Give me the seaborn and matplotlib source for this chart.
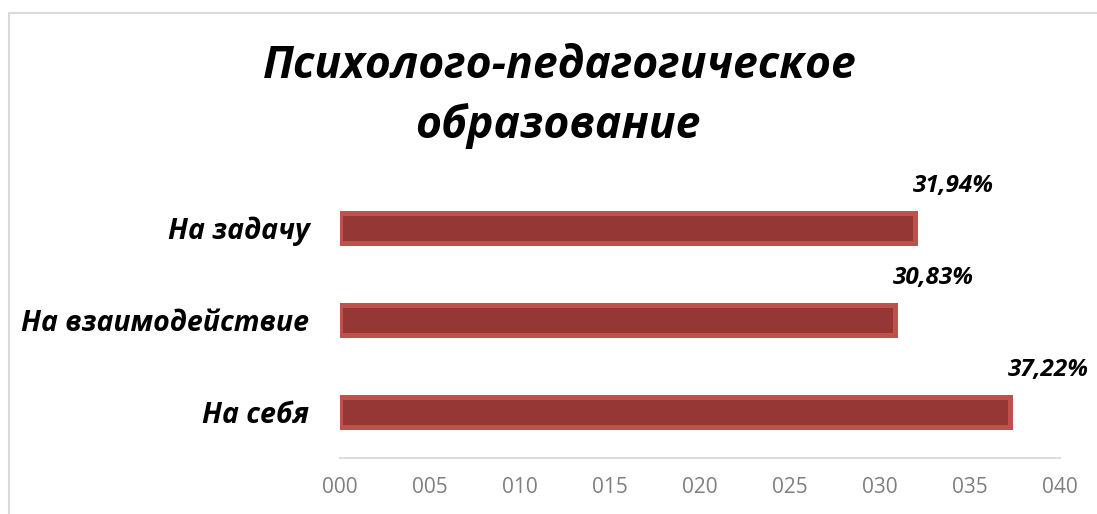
import matplotlib
matplotlib.use("Agg")
import matplotlib.pyplot as plt
from matplotlib import font_manager
from matplotlib.patches import Rectangle
from matplotlib.ticker import FuncFormatter, MultipleLocator
import seaborn as sns
import pandas as pd

# Data
categories = ["На задачу", "На взаимодействие", "На себя"]
values = [31.94, 30.83, 37.22]
title_lines = ["Психолого-педагогическое", "образование"]

# Styles
BAR_FILL = "#953735"
BAR_EDGE = "#C0504D"
GRID_GRAY = "#D9D9D9"
TICK_GRAY = "#7F7F7F"

sns.set_theme(style="white")

available = {f.name for f in font_manager.fontManager.ttflist}


def pick(*names):
    for n in names:
        if n in available:
            return n
    return "DejaVu Sans"


MAIN_FONT = pick("Open Sans", "Noto Sans", "DejaVu Sans")
TICK_FONT = pick("Liberation Sans Narrow", "Open Sans", "Noto Sans")
plt.rcParams["font.family"] = [MAIN_FONT, "DejaVu Sans"]

df = pd.DataFrame({"category": categories, "value": values})

fig = plt.figure(figsize=(10.97, 5.14), dpi=100)
ax = fig.add_axes([340 / 1097, 1 - 458 / 514, 720 / 1097, 276 / 514])

sns.barplot(
    data=df, x="value", y="category", order=categories, orient="h",
    color=BAR_FILL, edgecolor=BAR_EDGE, linewidth=3.6, width=0.32,
    saturation=1, ax=ax,
)

ax.set_xlim(0, 40)
ax.set_ylim(2.5, -0.5)
ax.xaxis.set_major_locator(MultipleLocator(5))
ax.xaxis.set_major_formatter(FuncFormatter(lambda v, p: f"{int(round(v)):03d}"))
ax.set_xlabel("")
ax.set_ylabel("")

for side in ("top", "right", "left"):
    ax.spines[side].set_visible(False)
ax.spines["bottom"].set_color(GRID_GRAY)
ax.spines["bottom"].set_linewidth(1.3)

ax.tick_params(axis="x", length=0, pad=14, labelsize=15, labelcolor=TICK_GRAY)
for lbl in ax.get_xticklabels():
    lbl.set_fontfamily(TICK_FONT)
ax.tick_params(axis="y", length=0, pad=22)
for lbl in ax.get_yticklabels():
    lbl.set_fontsize(20.5)
    lbl.set_fontweight("bold")
    lbl.set_fontstyle("italic")
    lbl.set_color("black")

# Value labels above the end of each bar
for i, v in enumerate(values):
    ax.text(v - 0.1, i - 0.46, f"{v:.2f}%".replace(".", ","),
            ha="left", va="center", fontsize=17.5, fontweight="bold",
            fontstyle="italic", color="black")

# Title
fig.text(560 / 1097, 1 - 66 / 514, title_lines[0], ha="center", va="center",
         fontsize=32, fontweight="bold", fontstyle="italic", color="black")
fig.text(558 / 1097, 1 - 126 / 514, title_lines[1], ha="center", va="center",
         fontsize=32, fontweight="bold", fontstyle="italic", color="black")

# Chart-area frame
fig.patches.append(Rectangle((8.5 / 1097, -0.1), 1.2, 1 - 12.5 / 514 + 0.1,
                             transform=fig.transFigure, fill=False,
                             edgecolor=GRID_GRAY, linewidth=1.5))

fig.savefig("out.png", dpi=100)
